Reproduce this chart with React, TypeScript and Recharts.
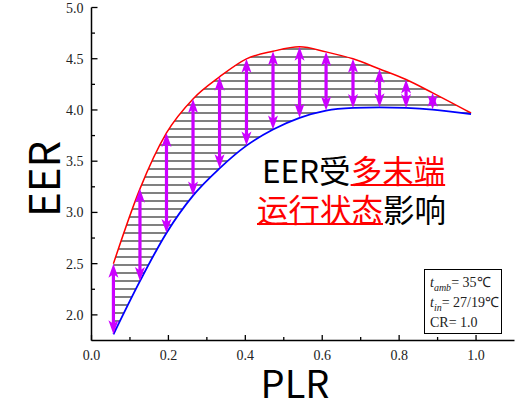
import React from 'react';
import { ComposedChart, Area, Line, XAxis, YAxis, ReferenceLine } from 'recharts';

// Part-load ratio sample points and the EER envelope at each one
const plr = [0.057, 0.126, 0.195, 0.264, 0.333, 0.403, 0.472, 0.541, 0.61, 0.68, 0.749, 0.818, 0.887, 0.987];
const eerUpper = [2.5, 3.23, 3.776, 4.108, 4.323, 4.499, 4.573, 4.616, 4.567, 4.499, 4.4, 4.297, 4.167, 3.97];
const eerLower = [1.81, 2.33, 2.8, 3.164, 3.43, 3.652, 3.809, 3.923, 3.994, 4.02, 4.026, 4.02, 4.004, 3.96];
// double arrows mark the spread at every sample except the closing point
const arrowCount = 13;

const xTicks = [0, 0.1, 0.2, 0.3, 0.4, 0.5, 0.6, 0.7, 0.8, 0.9, 1.0];
const yTicks = [2.0, 2.25, 2.5, 2.75, 3.0, 3.25, 3.5, 3.75, 4.0, 4.25, 4.5, 4.75, 5.0];

const rows = plr.map((x, i) => ({
  x,
  hi: eerUpper[i],
  lo: eerLower[i],
  band: [eerLower[i], eerUpper[i]],
}));

const MAGENTA = '#CC00FF';
const SERIF = '"Liberation Serif", "Times New Roman", serif';
const CJK = '"Noto Sans CJK SC", "Noto Sans", sans-serif';

const tickText: React.CSSProperties = { fontFamily: SERIF, fontSize: 14, fill: '#222' };

const XTick = (props: any) => {
  const { x, y, payload } = props;
  const v: number = payload.value;
  const major = Math.round(v * 10) % 2 === 0;
  return (
    <g>
      <line x1={x} x2={x} y1={y} y2={y - (major ? 5.5 : 3.5)} stroke="#000" strokeWidth={1.3} />
      {major && (
        <text x={x} y={y + 19.5} textAnchor="middle" style={tickText}>
          {v.toFixed(1)}
        </text>
      )}
    </g>
  );
};

const YTick = (props: any) => {
  const { x, y, payload } = props;
  const v: number = payload.value;
  const major = Math.round(v * 4) % 2 === 0;
  return (
    <g>
      <line x1={x} x2={x + (major ? 6 : 3.5)} y1={y} y2={y} stroke="#000" strokeWidth={1.3} />
      {major && (
        <text x={x - 8} y={y + 5} textAnchor="end" style={tickText}>
          {v.toFixed(1)}
        </text>
      )}
    </g>
  );
};

const DoubleArrow = (p: any) => {
  const { x1, y1, y2 } = p;
  const x = x1;
  const top = Math.min(y1, y2);
  const bot = Math.max(y1, y2);
  const hl = 14;
  const hw = 5;
  const notch = 10.5;
  const shaft = Math.max(0, bot - top - 2 * notch + 2);
  return (
    <g fill={MAGENTA}>
      <rect x={x - 1.6} y={top + notch - 1} width={3.2} height={shaft} />
      <polygon points={`${x},${top} ${x + hw},${top + hl} ${x},${top + notch} ${x - hw},${top + hl}`} />
      <polygon points={`${x},${bot} ${x + hw},${bot - hl} ${x},${bot - notch} ${x - hw},${bot - hl}`} />
    </g>
  );
};

const redUnderline: React.CSSProperties = {
  color: '#FF0000',
  textDecoration: 'underline',
  textDecorationThickness: '2px',
  textUnderlineOffset: '1px',
};

export default function App() {
  return (
    <div style={{ position: 'absolute', left: 0, top: 0, width: 523, height: 400, background: '#fff' }}>
      <ComposedChart
        width={523}
        height={400}
        data={rows}
        margin={{ top: 7.5, right: 8.5, bottom: 0, left: 0 }}
      >
        <defs>
          <pattern id="hatch" patternUnits="userSpaceOnUse" width="8" height="8">
            <rect x="0" y="0" width="8" height="2" fill="#808080" />
          </pattern>
        </defs>
        <XAxis
          dataKey="x"
          type="number"
          domain={[0, 1.1]}
          ticks={xTicks}
          interval={0}
          height={59.5}
          tickSize={0}
          tickMargin={0}
          tickLine={false}
          axisLine={{ stroke: '#000', strokeWidth: 1.5 }}
          tick={<XTick />}
        />
        <XAxis
          xAxisId="frame"
          orientation="top"
          type="number"
          domain={[0, 1.1]}
          height={0}
          tick={false}
          tickLine={false}
          axisLine={{ stroke: '#000', strokeWidth: 1.5 }}
        />
        <YAxis
          type="number"
          domain={[1.75, 5.0]}
          ticks={yTicks}
          interval={0}
          width={91.5}
          tickSize={0}
          tickMargin={0}
          tickLine={false}
          axisLine={{ stroke: '#000', strokeWidth: 1.5 }}
          tick={<YTick />}
        />
        <YAxis
          yAxisId="frame"
          orientation="right"
          type="number"
          domain={[1.75, 5.0]}
          width={0}
          tick={false}
          tickLine={false}
          axisLine={{ stroke: '#000', strokeWidth: 1.5 }}
        />
        <Area
          dataKey="band"
          type="monotone"
          fill="url(#hatch)"
          fillOpacity={1}
          stroke="none"
          isAnimationActive={false}
          activeDot={false}
        />
        <Line dataKey="hi" type="monotone" stroke="#FF0000" strokeWidth={1.5} dot={false} isAnimationActive={false} />
        <Line dataKey="lo" type="monotone" stroke="#0000FF" strokeWidth={1.8} dot={false} isAnimationActive={false} />
        {rows.slice(0, arrowCount).map((r) => (
          <ReferenceLine
            key={r.x}
            segment={[{ x: r.x, y: r.hi }, { x: r.x, y: r.lo }]}
            shape={(p: any) => <DoubleArrow {...p} />}
          />
        ))}
      </ComposedChart>

      {/* axis titles */}
      <div
        style={{
          position: 'absolute', left: 42, top: 179, transform: 'translate(-50%, -50%) rotate(-90deg)',
          fontFamily: CJK, fontSize: 42, lineHeight: '42px', color: '#000', whiteSpace: 'nowrap',
        }}
      >
        EER
      </div>
      <div
        style={{
          position: 'absolute', left: 295, top: 382, transform: 'translate(-50%, -50%)',
          fontFamily: CJK, fontSize: 38, lineHeight: '34px', color: '#000', whiteSpace: 'nowrap',
        }}
      >
        PLR
      </div>

      {/* annotation */}
      <div
        style={{
          position: 'absolute', left: 262, top: 153, fontFamily: CJK, fontSize: 31.5, lineHeight: '32px',
          color: '#000', whiteSpace: 'nowrap',
        }}
      >
        EER受<span style={redUnderline}>多末端</span>
      </div>
      <div
        style={{
          position: 'absolute', left: 257, top: 192, fontFamily: CJK, fontSize: 31.5, lineHeight: '32px',
          color: '#000', whiteSpace: 'nowrap',
        }}
      >
        <span style={redUnderline}>运行状态</span>影响
      </div>

      {/* operating conditions */}
      <div
        style={{
          position: 'absolute', left: 424, top: 269, width: 78, height: 65, border: '1px solid #000',
          fontFamily: SERIF, fontSize: 14, lineHeight: '20px', color: '#222', paddingLeft: 5, paddingTop: 3,
          boxSizing: 'border-box', background: '#fff', whiteSpace: 'nowrap',
        }}
      >
        <div>
          <i>t</i><sub style={{ fontStyle: 'italic', fontSize: 10, lineHeight: 0 }}>amb</sub>= 35℃
        </div>
        <div>
          <i>t</i><sub style={{ fontStyle: 'italic', fontSize: 10, lineHeight: 0 }}>in</sub>= 27/19℃
        </div>
        <div>CR= 1.0</div>
      </div>
    </div>
  );
}
